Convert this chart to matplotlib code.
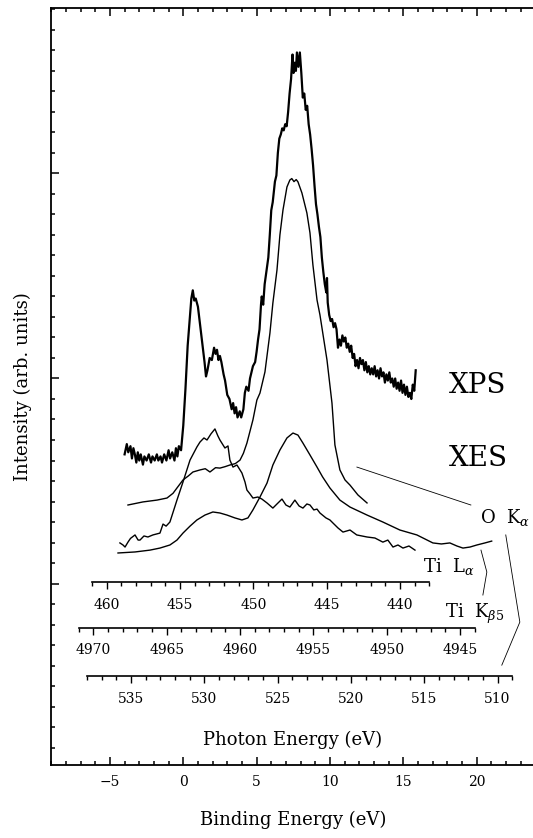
import numpy as np
import matplotlib
matplotlib.use('Agg')
import matplotlib.pyplot as plt
from matplotlib.ticker import FixedLocator, NullFormatter

plt.rcParams['font.family'] = 'DejaVu Serif'
plt.rcParams['mathtext.fontset'] = 'dejavuserif'

# XPS valence band (binding energy in eV, intensity in arb. units)
xps_be = [-4.00, -3.85, -3.75, -3.60, -3.50, -3.40, -3.30, -3.20, -3.10, -3.00,
          -2.90, -2.75, -2.65, -2.50, -2.35, -2.20, -2.10, -1.95, -1.80, -1.70,
          -1.55, -1.45, -1.30, -1.15, -1.00, -0.90, -0.75, -0.60, -0.50, -0.40,
          -0.30, -0.15, 0.00, 0.15, 0.30, 0.45, 0.55, 0.65, 0.75, 0.85,
          1.00, 1.15, 1.30, 1.45, 1.55, 1.65, 1.80, 1.95, 2.10, 2.20,
          2.30, 2.40, 2.50, 2.60, 2.75, 2.85, 3.00, 3.15, 3.30, 3.40,
          3.50, 3.60, 3.70, 3.85, 3.95, 4.10, 4.20, 4.30, 4.45, 4.55,
          4.65, 4.75, 4.90, 5.00, 5.10, 5.20, 5.30, 5.35, 5.45, 5.55,
          5.70, 5.80, 5.90, 6.00, 6.10, 6.25, 6.35, 6.45, 6.55, 6.65,
          6.75, 6.85, 6.95, 7.05, 7.15, 7.25, 7.35, 7.45, 7.52, 7.60,
          7.68, 7.75, 7.85, 7.95, 8.05, 8.15, 8.25, 8.35, 8.45, 8.55,
          8.65, 8.75, 8.85, 8.95, 9.05, 9.15, 9.25, 9.35, 9.45, 9.55,
          9.65, 9.75, 9.80, 9.85, 9.95, 10.05, 10.15, 10.25, 10.35, 10.45,
          10.55, 10.65, 10.75, 10.85, 10.95, 11.05, 11.15, 11.25, 11.35, 11.45,
          11.55, 11.65, 11.75, 11.85, 11.95, 12.05, 12.15, 12.25, 12.35, 12.45,
          12.55, 12.65, 12.75, 12.85, 12.95, 13.05, 13.15, 13.25, 13.35, 13.45,
          13.55, 13.65, 13.75, 13.85, 13.95, 14.05, 14.15, 14.25, 14.35, 14.45,
          14.55, 14.65, 14.75, 14.85, 14.95, 15.05, 15.15, 15.25, 15.35, 15.45,
          15.55, 15.65, 15.75, 15.85]
xps_int = [16.3, 16.8, 16.4, 16.7, 16.1, 16.6, 16.3, 15.9, 16.4, 16.0,
           16.3, 15.8, 16.2, 16.0, 16.3, 15.9, 16.2, 16.0, 16.3, 16.0,
           16.2, 15.9, 16.3, 16.0, 16.5, 16.1, 16.4, 16.0, 16.6, 16.2,
           16.7, 16.5, 17.7, 19.5, 21.6, 23.0, 23.9, 24.3, 23.8, 23.9,
           23.5, 22.6, 21.7, 20.8, 20.1, 20.4, 21.0, 20.9, 21.5, 21.2,
           21.4, 20.9, 21.1, 20.8, 20.2, 19.9, 19.2, 19.0, 18.5, 18.8,
           18.3, 18.6, 18.1, 18.4, 18.1, 18.5, 19.3, 19.6, 19.4, 20.0,
           20.3, 20.6, 20.8, 21.3, 21.9, 22.4, 23.6, 24.0, 23.6, 24.6,
           25.4, 25.9, 27.0, 28.2, 28.6, 29.6, 29.9, 31.0, 31.7, 31.9,
           32.2, 32.1, 32.4, 32.3, 33.0, 33.9, 34.6, 35.8, 34.9, 35.4,
           35.0, 35.9, 35.2, 35.9, 34.9, 33.7, 33.9, 33.1, 33.3, 32.4,
           31.9, 31.2, 30.4, 29.4, 28.5, 28.0, 27.4, 26.9, 25.9, 25.2,
           24.6, 24.2, 24.9, 23.7, 23.1, 22.8, 22.9, 22.5, 22.7, 22.4,
           21.5, 21.9, 21.6, 22.1, 21.8, 22.0, 21.5, 21.7, 21.3, 21.6,
           21.0, 21.2, 20.6, 20.9, 20.5, 21.0, 20.7, 20.9, 20.4, 20.8,
           20.3, 20.6, 20.2, 20.5, 20.2, 20.6, 20.1, 20.4, 20.0, 20.5,
           20.1, 20.3, 19.8, 20.2, 19.9, 20.3, 19.8, 20.0, 19.6, 20.0,
           19.5, 19.8, 19.4, 19.9, 19.3, 19.7, 19.2, 19.6, 19.1, 19.3,
           19.0, 19.7, 19.4, 20.4]

# O K-alpha emission on the binding energy scale
ok_be = [-3.77, -2.75, -1.79, -1.11, -0.70, -0.43, -0.02, 0.35, 0.66, 1.14,
         1.50, 1.82, 2.20, 2.50, 2.85, 3.18, 3.55, 3.87, 4.10, 4.34,
         4.75, 5.02, 5.23, 5.57, 5.91, 6.11, 6.39, 6.59, 6.80, 7.07,
         7.27, 7.40, 7.55, 7.70, 7.82, 8.09, 8.43, 8.64, 8.84, 9.12,
         9.32, 9.80, 10.14, 10.34, 10.68, 11.03, 11.37, 11.91, 12.53]
ok_int = [13.83, 13.98, 14.07, 14.17, 14.40, 14.66, 15.05, 15.25, 15.44, 15.54,
          15.60, 15.44, 15.65, 15.63, 15.70, 15.78, 15.85, 16.02, 16.35, 16.85,
          17.98, 18.95, 19.29, 20.32, 22.22, 23.68, 25.29, 27.00, 28.22, 29.34,
          29.68, 29.75, 29.60, 29.70, 29.59, 29.05, 28.07, 27.10, 25.54, 23.83,
          23.10, 20.90, 18.80, 16.76, 15.54, 15.05, 14.80, 14.32, 13.93]

# Ti K-beta5 emission
tkb_be = [-4.45, -3.29, -2.27, -1.59, -0.91, -0.43, -0.02, 0.46, 0.93, 1.48,
          2.02, 2.50, 2.98, 3.52, 4.00, 4.41, 4.75, 5.23, 5.71, 6.11,
          6.59, 7.07, 7.48, 7.82, 8.16, 8.64, 9.12, 9.50, 10.00, 10.68,
          11.37, 12.53, 13.61, 14.77, 15.93, 17.02, 17.60, 18.18, 18.66, 19.07,
          19.55, 20.02, 20.57, 21.03]
tkb_int = [11.49, 11.54, 11.63, 11.73, 11.88, 12.12, 12.46, 12.80, 13.10, 13.34,
           13.49, 13.44, 13.34, 13.20, 13.10, 13.20, 13.59, 14.22, 14.90, 15.78,
           16.51, 17.10, 17.34, 17.24, 16.85, 16.27, 15.68, 15.20, 14.66, 14.07,
           13.73, 13.34, 13.00, 12.61, 12.37, 11.98, 11.93, 11.98, 11.83, 11.73,
           11.78, 11.88, 11.98, 12.07]

# Ti L-alpha emission
tla_be = [-4.32, -4.11, -3.97, -3.77, -3.60, -3.29, -3.08, -2.95, -2.68, -2.41,
          -2.07, -1.59, -1.38, -1.17, -0.91, -0.43, -0.02, 0.46, 0.93, 1.14,
          1.41, 1.62, 1.89, 2.16, 2.36, 2.50, 2.84, 3.05, 3.18, 3.39,
          3.66, 4.00, 4.21, 4.34, 4.55, 4.75, 5.09, 5.36, 5.71, 6.11,
          6.39, 6.73, 7.00, 7.27, 7.61, 7.90, 8.16, 8.43, 8.64, 8.90,
          9.12, 9.32, 9.73, 10.00, 10.21, 10.55, 10.89, 11.37, 11.83, 12.53,
          13.07, 13.61, 13.95, 14.30, 14.64, 14.98, 15.39, 15.80]
tla_int = [11.98, 11.88, 11.78, 12.02, 12.20, 12.37, 12.12, 12.12, 12.32, 12.27,
           12.37, 12.46, 12.90, 12.80, 13.00, 14.07, 14.95, 16.02, 16.66, 16.90,
           17.10, 17.00, 17.30, 17.54, 17.20, 17.00, 16.61, 16.71, 16.02, 15.68,
           15.78, 15.39, 14.95, 14.56, 14.37, 14.17, 14.22, 14.12, 13.93, 13.68,
           13.88, 14.12, 13.83, 13.73, 14.07, 13.78, 13.68, 13.88, 13.83, 13.59,
           13.63, 13.44, 13.20, 13.10, 12.95, 12.71, 12.51, 12.61, 12.37, 12.27,
           12.22, 12.02, 12.12, 11.78, 11.88, 11.73, 11.83, 11.63]

be_ticks = [-5, 0, 5, 10, 15, 20]
til_ticks = [460, 455, 450, 445, 440]
tik_ticks = [4970, 4965, 4960, 4955, 4950, 4945]
ok_ticks = [535, 530, 525, 520, 515, 510]

fig = plt.figure(figsize=(5.33, 8.38), dpi=100)
ax = fig.add_axes([0.0962, 0.0871, 0.908, 0.9034])
ax.set_xlim(-9, 24)
ax.set_ylim(1.15, 38.07)

ax.plot(xps_be, xps_int, color='black', lw=1.6)
ax.plot(ok_be, ok_int, color='black', lw=1.0)
ax.plot(tkb_be, tkb_int, color='black', lw=1.0)
ax.plot(tla_be, tla_int, color='black', lw=1.0)

# main axes styling
for s in ['left', 'bottom', 'top']:
    ax.spines[s].set_linewidth(1.3)
ax.spines['right'].set_visible(False)
ax.xaxis.set_major_locator(FixedLocator(be_ticks))
ax.xaxis.set_minor_locator(FixedLocator(np.arange(-9, 24)))
ax.yaxis.set_major_locator(FixedLocator([10, 20, 30]))
ax.yaxis.set_minor_locator(FixedLocator(np.arange(2, 39)))
ax.yaxis.set_major_formatter(NullFormatter())
ax.tick_params(which='both', direction='in', top=True, right=False,
               labelleft=False, labeltop=False, width=1.1)
ax.tick_params(which='major', length=5.5, labelsize=10, pad=7)
ax.tick_params(which='minor', length=2.8)
ax.set_xlabel('Binding Energy (eV)', fontsize=13, labelpad=16)
ax.set_ylabel('Intensity (arb. units)', fontsize=13, labelpad=14)


def photon_axis(loc, offset, e_lo, e_hi, majors):
    sec = ax.secondary_xaxis(loc, functions=(lambda x: offset - x,
                                             lambda e: offset - e))
    sec.xaxis.set_major_locator(FixedLocator(majors))
    sec.xaxis.set_minor_locator(FixedLocator(np.arange(e_lo, e_hi + 1)))
    sec.spines['bottom'].set_bounds(e_lo, e_hi)
    sec.spines['bottom'].set_linewidth(1.2)
    sec.tick_params(which='both', direction='out', width=1.0)
    sec.tick_params(which='major', length=5.3, labelsize=10, pad=6)
    sec.tick_params(which='minor', length=2.6)
    return sec


photon_axis(0.2417, 454.78, 438, 461, til_ticks)
photon_axis(0.1814, 4963.87, 4944, 4971, tik_ticks)
photon_axis(0.1176, 531.43, 509, 538, ok_ticks)

ax.text(7.47, 2.37, 'Photon Energy (eV)', fontsize=13, ha='center', va='center')

# labels of the spectra
ax.text(20.1, 19.68, 'XPS', fontsize=20, ha='center', va='center')
ax.text(20.1, 16.12, 'XES', fontsize=20, ha='center', va='center')
ax.text(20.2, 12.95, r'O  K$_{\alpha}$', fontsize=13, ha='left', va='baseline')
ax.text(16.33, 10.56, r'Ti  L$_{\alpha}$', fontsize=13, ha='left', va='baseline')
ax.text(17.83, 8.32, r'Ti  K$_{\beta5}$', fontsize=13, ha='left', va='baseline')

# leader lines
ax.plot([11.84, 19.61], [15.68, 13.83], color='black', lw=0.6)
ax.plot([21.99, 22.95, 21.72], [12.37, 8.12, 6.02], color='black', lw=0.6)
ax.plot([20.3, 20.7, 20.43], [11.63, 10.56, 9.44], color='black', lw=0.6)

fig.savefig('out.png', dpi=100)
